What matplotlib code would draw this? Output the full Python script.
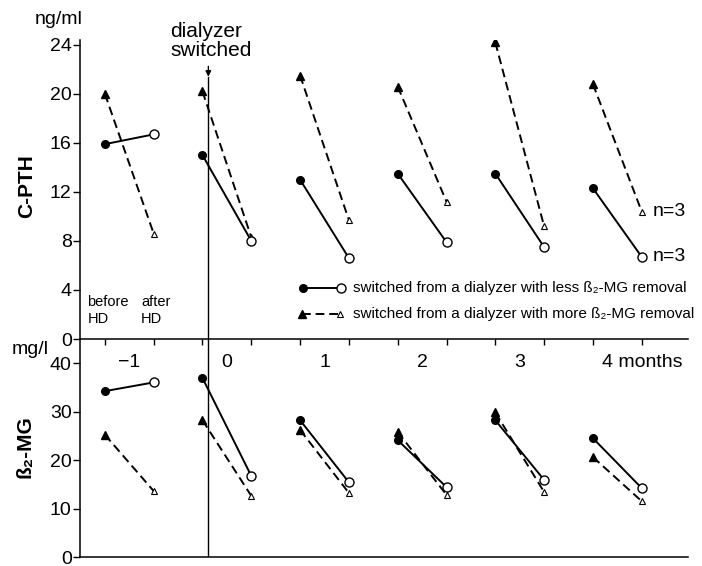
import matplotlib
matplotlib.use('Agg')
import matplotlib.pyplot as plt
from matplotlib import transforms

plt.rcParams['font.family'] = ['Liberation Sans', 'DejaVu Sans']

# ---------------- data ----------------
months = [-1, 0, 1, 2, 3, 4]
month_labels = ['\u22121', '0', '1', '2', '3', '4 months']
# C-PTH (ng/ml)
pth_less_before = [15.9, 15.0, 13.0, 13.5, 13.5, 12.3]
pth_less_after = [16.7, 8.0, 6.6, 7.9, 7.5, 6.7]
pth_more_before = [20.0, 20.2, 21.5, 20.6, 24.2, 20.8]
pth_more_after = [8.6, 8.3, 9.7, 11.2, 9.2, 10.4]
# beta2-MG (mg/l)
mg_less_before = [34.2, 36.9, 28.2, 24.1, 28.2, 24.5]
mg_less_after = [36.0, 16.7, 15.4, 14.4, 15.9, 14.2]
mg_more_before = [25.2, 28.2, 26.2, 25.8, 29.8, 20.6]
mg_more_after = [13.6, 12.6, 13.2, 12.8, 13.4, 11.5]
pth_ticks = [0, 4, 8, 12, 16, 20, 24]
mg_ticks = [0, 10, 20, 30, 40]
switch_month = -0.19
n_label = 'n=3'

W, H = 702, 566
fig = plt.figure(figsize=(W / 100, H / 100), dpi=100)

def px_axes(l, t, r, b):
    return fig.add_axes([l / W, (H - b) / H, (r - l) / W, (b - t) / H])

ax1 = px_axes(80, 40, 688, 339)
ax2 = px_axes(80, 339, 688, 557)
ax2.patch.set_alpha(0)

XL = (-1.505, 4.724)
for ax in (ax1, ax2):
    ax.set_xlim(*XL)
    for s in ('top', 'right'):
        ax.spines[s].set_visible(False)
    ax.spines['left'].set_linewidth(1.1)
    ax.spines['bottom'].set_linewidth(1.1)
    ax.tick_params(axis='y', direction='out', length=5, width=1.0, pad=1,
                   labelsize=14)

ax1.set_ylim(0, 24.4)
ax2.set_ylim(0, 44.95)
ax1.set_yticks(pth_ticks)
ax2.set_yticks(mg_ticks)

before_x = [m - 0.25 for m in months]
after_x = [m + 0.25 for m in months]

# x ticks (before/after positions) on top panel axis line
ax1.set_xticks(before_x + after_x)
ax1.set_xticklabels([])
ax1.tick_params(axis='x', direction='out', length=4, width=1.0)
ax2.set_xticks([])

# month labels
btr = transforms.blended_transform_factory(ax1.transData, ax1.transAxes)
for m, lab in zip(months, month_labels):
    if lab.endswith('months'):
        ax1.text(m - 0.16, -0.05, lab, transform=btr, ha='left', va='top', fontsize=14)
    else:
        ax1.text(m, -0.05, lab, transform=btr, ha='center', va='top', fontsize=14)

dash = (0, (4.5, 2.5))

def draw(ax, lb, la, mb, ma):
    for i in range(len(months)):
        ax.plot([before_x[i], after_x[i]], [mb[i], ma[i]], color='black', lw=1.4,
                ls=dash, zorder=2)
        ax.plot(before_x[i], mb[i], marker='^', ms=5.5, color='black', ls='none', zorder=3)
        ax.plot(after_x[i], ma[i], marker='^', ms=5, mfc='white', mec='black', mew=0.8,
                ls='none', zorder=3)
        ax.plot([before_x[i], after_x[i]], [lb[i], la[i]], color='black', lw=1.4, zorder=2)
        ax.plot(before_x[i], lb[i], marker='o', ms=5.5, color='black', ls='none', zorder=4)
        ax.plot(after_x[i], la[i], marker='o', ms=6.5, mfc='white', mec='black', mew=1.0,
                ls='none', zorder=4)

draw(ax1, pth_less_before, pth_less_after, pth_more_before, pth_more_after)
draw(ax2, mg_less_before, mg_less_after, mg_more_before, mg_more_after)

# dialyzer switched line
ax1.plot([switch_month, switch_month], [0, 21.4], color='black', lw=1.0, zorder=1)
ax2.axvline(switch_month, color='black', lw=1.0, zorder=1)
ax1.annotate('', xy=(switch_month, 21.4), xytext=(switch_month, 22.25),
             arrowprops=dict(arrowstyle='-|>', lw=1.0, color='black', mutation_scale=8,
                             shrinkA=0, shrinkB=0), annotation_clip=False)
fig.text(170 / W, 1 - 22 / H, 'dialyzer\nswitched', ha='left', va='top',
         fontsize=15, linespacing=0.98)

# n=3 labels
ax1.text(4.36, pth_more_after[-1], n_label, ha='left', va='center', fontsize=14)
ax1.text(4.36, pth_less_after[-1], n_label, ha='left', va='center', fontsize=14)

# before / after HD
ax1.text(-1.43, 3.6, 'before\nHD', ha='left', va='top', fontsize=10.5, linespacing=1.3)
ax1.text(-0.88, 3.6, 'after\nHD', ha='left', va='top', fontsize=10.5, linespacing=1.3)

# legend (manual)
def axfx(px):
    return (px - 80) / 608

def axfy(py):
    return (339 - py) / 299

ly1, ly2 = axfy(288), axfy(314)
ax1.plot([axfx(303), axfx(341)], [ly1, ly1], transform=ax1.transAxes, color='black', lw=1.4)
ax1.plot(axfx(303), ly1, transform=ax1.transAxes, marker='o', ms=5.5, color='black')
ax1.plot(axfx(341), ly1, transform=ax1.transAxes, marker='o', ms=6.5, mfc='white', mec='black', mew=1.0)
ax1.plot([axfx(302), axfx(340)], [ly2, ly2], transform=ax1.transAxes, color='black', lw=1.4, ls=dash)
ax1.plot(axfx(302), ly2, transform=ax1.transAxes, marker='^', ms=5.5, color='black')
ax1.plot(axfx(340), ly2, transform=ax1.transAxes, marker='^', ms=5, mfc='white', mec='black', mew=0.8)
ax1.text(axfx(353), ly1, 'switched from a dialyzer with less \u00df\u2082-MG removal',
         transform=ax1.transAxes, ha='left', va='center', fontsize=11, clip_on=False)
ax1.text(axfx(353), ly2, 'switched from a dialyzer with more \u00df\u2082-MG removal',
         transform=ax1.transAxes, ha='left', va='center', fontsize=11, clip_on=False)

# unit and axis labels
fig.text(59 / W, 1 - 20 / H, 'ng/ml', ha='center', va='center', fontsize=14)
fig.text(30 / W, 1 - 349 / H, 'mg/l', ha='center', va='center', fontsize=14)
fig.text(27 / W, 1 - 186 / H, 'C-PTH', ha='center', va='center', fontsize=15,
         fontweight='bold', rotation=90)
fig.text(25 / W, 1 - 447 / H, '\u00df\u2082-MG', ha='center', va='center', fontsize=15,
         fontweight='bold', rotation=90)

fig.savefig('out.png', dpi=100)
